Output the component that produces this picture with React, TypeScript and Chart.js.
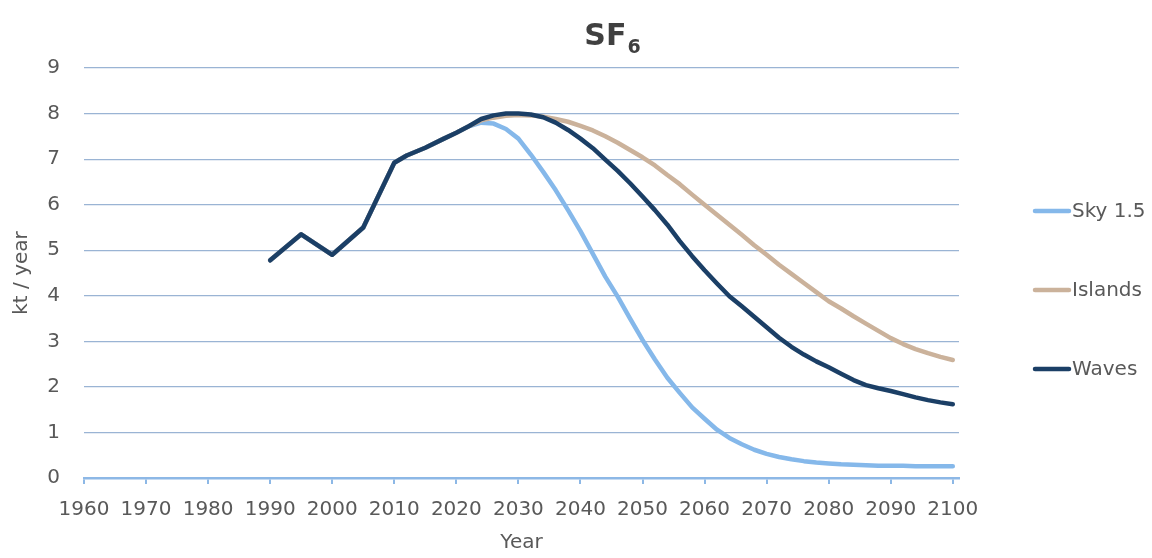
import React, { useEffect, useRef } from 'react';
import { Chart, registerables } from 'chart.js';

Chart.register(...registerables);

// ---- Data ----
const histYears = [1990, 1995, 2000, 2005, 2010, 2012, 2015, 2018, 2020, 2022];
const histValues = [4.78, 5.35, 4.9, 5.5, 6.92, 7.08, 7.25, 7.45, 7.58, 7.72];

const projYears = [
  2024, 2026, 2028, 2030, 2032, 2034, 2036, 2038, 2040, 2042,
  2044, 2046, 2048, 2050, 2052, 2054, 2056, 2058, 2060, 2062,
  2064, 2066, 2068, 2070, 2072, 2074, 2076, 2078, 2080, 2082,
  2084, 2086, 2088, 2090, 2092, 2094, 2096, 2098, 2100,
];

const skyValues = [
  7.8, 7.78, 7.66, 7.45, 7.1, 6.72, 6.32, 5.88, 5.42, 4.92,
  4.42, 3.98, 3.5, 3.03, 2.6, 2.2, 1.87, 1.55, 1.3, 1.06,
  0.88, 0.74, 0.62, 0.53, 0.46, 0.41, 0.37, 0.34, 0.32, 0.3,
  0.29, 0.28, 0.27, 0.27, 0.27, 0.26, 0.26, 0.26, 0.26,
];

const islandsValues = [
  7.85, 7.91, 7.95, 7.97, 7.96, 7.93, 7.88, 7.82, 7.73, 7.63,
  7.5, 7.36, 7.2, 7.04, 6.86, 6.65, 6.45, 6.22, 6.0, 5.78,
  5.56, 5.34, 5.11, 4.9, 4.68, 4.48, 4.28, 4.08, 3.88, 3.72,
  3.55, 3.39, 3.23, 3.07, 2.94, 2.83, 2.74, 2.66, 2.59,
];

const wavesValues = [
  7.88, 7.96, 8.0, 8.0, 7.98, 7.92, 7.8, 7.64, 7.45, 7.24,
  6.99, 6.74, 6.47, 6.18, 5.88, 5.56, 5.2, 4.87, 4.56, 4.27,
  3.99, 3.77, 3.54, 3.31, 3.08, 2.88, 2.71, 2.56, 2.43, 2.29,
  2.15, 2.04, 1.97, 1.91, 1.84, 1.77, 1.71, 1.66, 1.62,
];

const seriesLabels = ['Sky 1.5', 'Islands', 'Waves'];
const seriesColors = ['#85B8EA', '#CBB29B', '#1B3F66'];
const xTickMin = 1960;
const xTickMax = 2100;
const yTickMax = 9;
const titleMain = 'SF';
const titleSub = '6';
const xTitle = 'Year';
const yTitle = 'kt / year';

const FONT = '"DejaVu Sans", sans-serif';
const TEXT = '#595959';
const GRID = '#9AB4D4';
const AXIS = '#8DB8E6';

function buildSeries(values: number[]) {
  const pts = histYears.map((x, i) => ({ x, y: histValues[i] }));
  return pts.concat(projYears.map((x, i) => ({ x, y: values[i] })));
}

const overlayPlugin = {
  id: 'overlay',
  afterDraw(chart: any) {
    const ctx = chart.ctx as CanvasRenderingContext2D;
    ctx.save();
    // Title with subscript
    ctx.fillStyle = '#404040';
    ctx.textBaseline = 'alphabetic';
    ctx.textAlign = 'left';
    ctx.font = `bold 30px ${FONT}`;
    const w1 = ctx.measureText(titleMain).width;
    ctx.font = `bold 19px ${FONT}`;
    const w2 = ctx.measureText(titleSub).width;
    const x0 = 612 - (w1 + w2) / 2;
    ctx.font = `bold 30px ${FONT}`;
    ctx.fillText(titleMain, x0, 45);
    ctx.font = `bold 19px ${FONT}`;
    ctx.fillText(titleSub, x0 + w1 + 1, 53);

    // Legend
    chart.data.datasets.forEach((ds: any, i: number) => {
      const y = 211 + i * 79;
      ctx.strokeStyle = ds.borderColor;
      ctx.lineWidth = 4.5;
      ctx.lineCap = 'round';
      ctx.beginPath();
      ctx.moveTo(1035, y);
      ctx.lineTo(1069, y);
      ctx.stroke();
      ctx.fillStyle = TEXT;
      ctx.font = `20px ${FONT}`;
      ctx.textBaseline = 'middle';
      ctx.fillText(ds.label, 1072, y + 1);
    });
    ctx.restore();
  },
};

export default function App() {
  const canvasRef = useRef<HTMLCanvasElement | null>(null);

  useEffect(() => {
    if (!canvasRef.current) return;
    const valuesList = [skyValues, islandsValues, wavesValues];
    const chart = new Chart(canvasRef.current, {
      type: 'line',
      data: {
        datasets: seriesLabels.map((label, i) => ({
          label,
          data: buildSeries(valuesList[i]),
          borderColor: seriesColors[i],
          backgroundColor: seriesColors[i],
          borderWidth: 4.5,
          pointRadius: 0,
          tension: 0,
          borderJoinStyle: 'round' as const,
          borderCapStyle: 'round' as const,
          order: 3 - i,
        })),
      },
      options: {
        animation: false,
        responsive: false,
        maintainAspectRatio: false,
        layout: { padding: { top: 68, right: 193, bottom: 0, left: 0 } },
        plugins: {
          legend: { display: false },
          title: { display: false },
          tooltip: { enabled: false },
        },
        scales: {
          x: {
            type: 'linear',
            min: xTickMin,
            max: xTickMax + 1,
            afterFit: (scale: any) => {
              scale.height = 80;
            },
            ticks: {
              stepSize: 10,
              includeBounds: false,
              autoSkip: false,
              maxRotation: 0,
              padding: 14,
              color: TEXT,
              font: { family: FONT, size: 20 },
              callback: (v: any) => String(v),
            },
            grid: {
              drawOnChartArea: false,
              drawTicks: true,
              tickLength: 6,
              color: AXIS,
              lineWidth: 2,
            },
            border: { display: true, color: AXIS, width: 2.5 },
            title: {
              display: true,
              text: xTitle,
              color: TEXT,
              font: { family: FONT, size: 20 },
              padding: { top: 0, bottom: 3 },
            },
          },
          y: {
            min: 0,
            max: yTickMax,
            afterFit: (scale: any) => {
              scale.width = 84;
            },
            ticks: {
              stepSize: 1,
              padding: 24,
              color: TEXT,
              font: { family: FONT, size: 20 },
            },
            grid: {
              drawTicks: false,
              color: GRID,
              lineWidth: 1.2,
            },
            border: { display: false },
            title: {
              display: true,
              text: yTitle,
              color: TEXT,
              font: { family: FONT, size: 20 },
              padding: { top: 10, bottom: 0 },
            },
          },
        },
      },
      plugins: [overlayPlugin],
    });
    return () => chart.destroy();
  }, []);

  return (
    <div style={{ position: 'fixed', left: 0, top: 0, width: 1152, height: 558, background: '#fff' }}>
      <canvas ref={canvasRef} width={1152} height={558} style={{ width: 1152, height: 558 }} />
    </div>
  );
}
